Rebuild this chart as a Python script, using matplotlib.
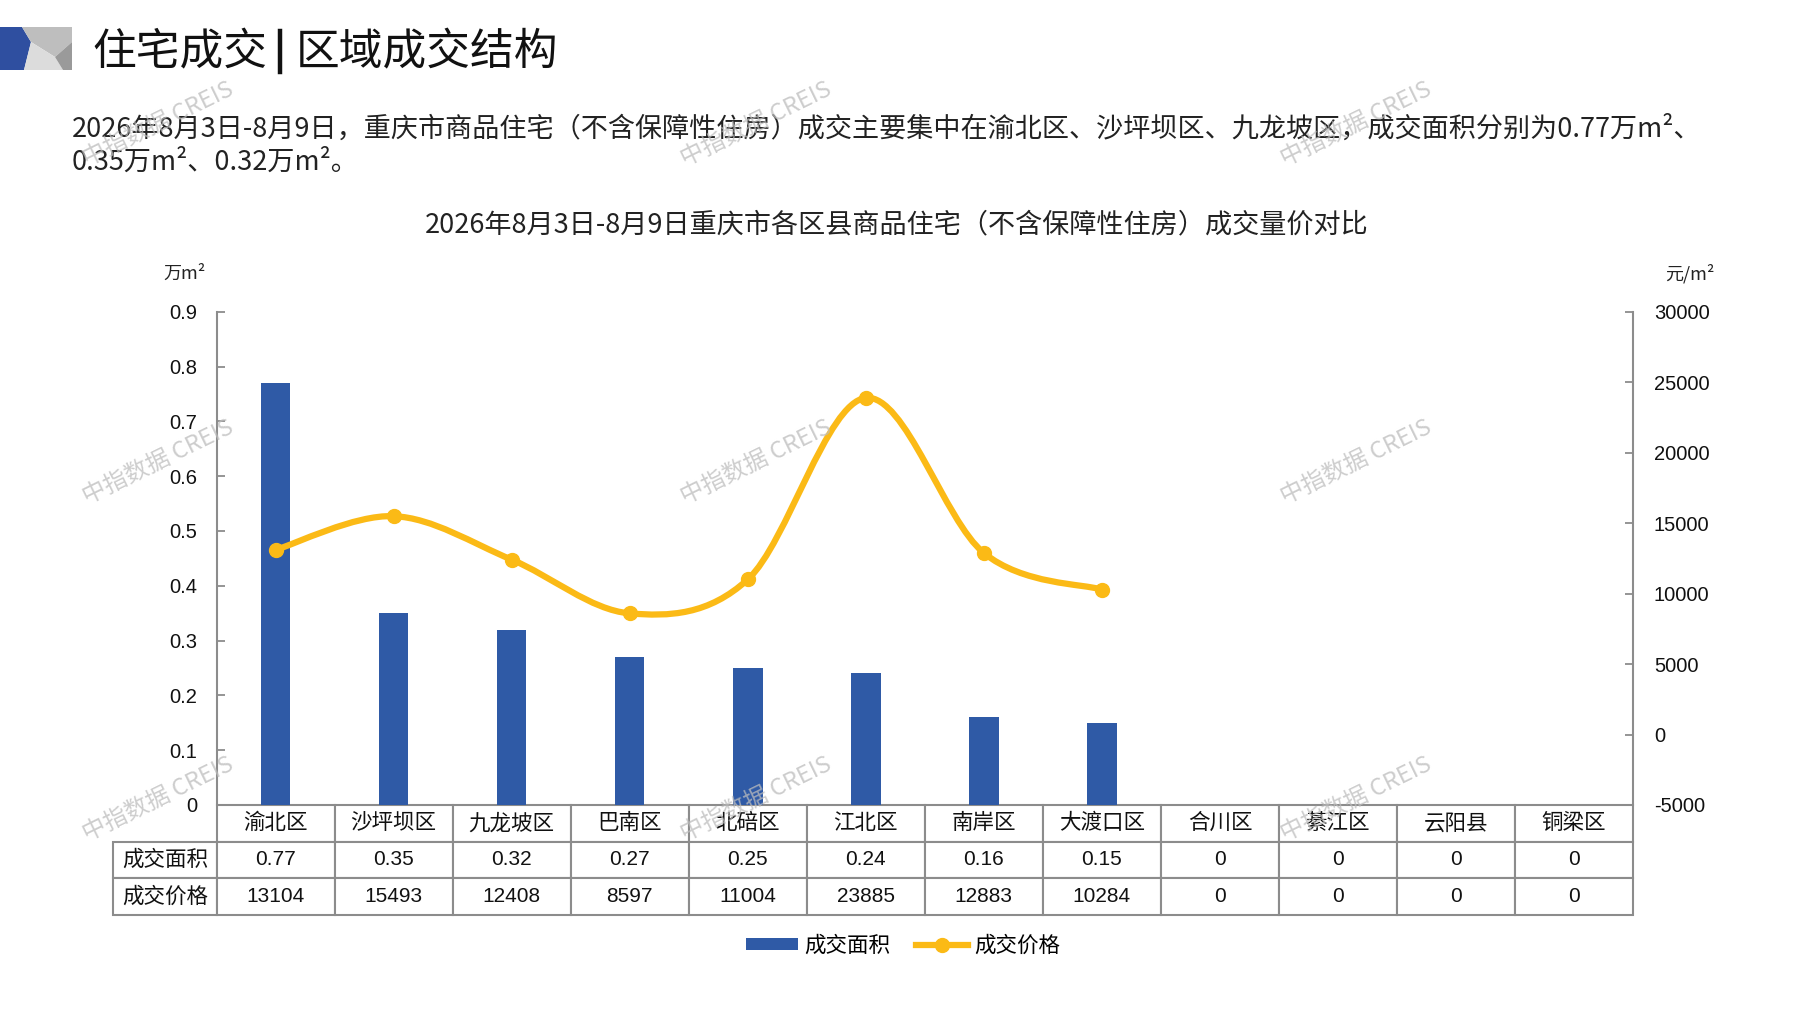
import matplotlib
matplotlib.use("Agg")
import matplotlib.pyplot as plt
from matplotlib.path import Path
from matplotlib.patches import PathPatch, Polygon, Patch
from matplotlib.lines import Line2D

plt.rcParams['font.family'] = ['Noto Sans CJK SC', 'DejaVu Sans']

# data
districts = ['渝北区', '沙坪坝区', '九龙坡区', '巴南区', '北碚区', '江北区',
             '南岸区', '大渡口区', '合川区', '綦江区', '云阳县', '铜梁区']
area = [0.77, 0.35, 0.32, 0.27, 0.25, 0.24, 0.16, 0.15, 0, 0, 0, 0]
price = [13104, 15493, 12408, 8597, 11004, 23885, 12883, 10284, 0, 0, 0, 0]
row_labels = ['成交面积', '成交价格']
left_ticks = [0, 0.1, 0.2, 0.3, 0.4, 0.5, 0.6, 0.7, 0.8, 0.9]
right_ticks = [-5000, 0, 5000, 10000, 15000, 20000, 25000, 30000]

title_left = '住宅成交'
title_right = '区域成交结构'
para1 = ('2026年8月3日-8月9日，重庆市商品住宅（不含保障性住房）成交主要集中在'
         '渝北区、沙坪坝区、九龙坡区，成交面积分别为0.77万m²、')
para2 = '0.35万m²、0.32万m²。'
chart_title = '2026年8月3日-8月9日重庆市各区县商品住宅（不含保障性住房）成交量价对比'

BLUE = '#2F5AA6'
GOLD = '#FBBA16'
GREY = '#8C8C8C'
NUM_FONT = ['Liberation Sans', 'DejaVu Sans']

W, H = 1797, 1010


def fx(x):
    return x / W


def fy(y):
    return 1 - y / H


fig = plt.figure(figsize=(W / 100, H / 100), dpi=100)

# header icon
icon = [
    ([(0, 27), (22, 27), (31, 42), (24, 70), (0, 70)], '#2F4FA0'),
    ([(22, 27), (72, 27), (72, 42), (55, 57), (31, 42)], '#BEBEBE'),
    ([(31, 42), (55, 57), (63, 70), (24, 70)], '#DCDCDC'),
    ([(72, 42), (72, 70), (63, 70), (55, 57)], '#9A9A9A'),
]
for pts, c in icon:
    fig.patches.append(Polygon([(fx(a), fy(b)) for a, b in pts], closed=True,
                               transform=fig.transFigure, color=c, lw=0))

fig.text(fx(92), fy(52), title_left, fontsize=31.5, va='center', ha='left', color='#111111')
fig.add_artist(Line2D([fx(280), fx(280)], [fy(31), fy(72)], color='#111111', lw=3.2,
                      transform=fig.transFigure))
fig.text(fx(296), fy(52), title_right, fontsize=31.5, va='center', ha='left', color='#111111')
fig.text(fx(72), fy(129), para1, fontsize=19.5, va='center', ha='left', color='#222222')
fig.text(fx(72), fy(162), para2, fontsize=19.5, va='center', ha='left', color='#222222')
fig.text(fx(897), fy(225), chart_title, fontsize=19.5, va='center', ha='center', color='#222222')
fig.text(fx(185), fy(274), '万m²', fontsize=13, va='center', ha='center', color='#222222')
fig.text(fx(1690), fy(274), '元/m²', fontsize=13, va='center', ha='center', color='#222222')

# axes
ax = fig.add_axes([fx(216.6), fy(805), fx(1633) - fx(216.6), fy(311.7) - fy(805)])
x = list(range(len(districts)))
ax.bar(x, area, width=0.25, color=BLUE, zorder=2)
ax.set_xlim(-0.5, len(districts) - 0.5)
ax.set_ylim(0, 0.9)
ax.set_yticks(left_ticks)
ax.set_yticklabels(['0' if v == 0 else f'{v:.1f}' for v in left_ticks],
                   fontfamily=NUM_FONT)
ax.set_xticks([])
ax.tick_params(axis='y', direction='in', length=6, width=1.3, color=GREY,
               labelsize=14.5, pad=14, labelcolor='#111111')
for s in ['top', 'right', 'bottom']:
    ax.spines[s].set_visible(False)
ax.spines['left'].set_color(GREY)
ax.spines['left'].set_linewidth(1.5)

ax2 = ax.twinx()
ax2.set_ylim(-5000, 30000)
ax2.set_yticks(right_ticks)
ax2.set_yticklabels([str(v) for v in right_ticks], fontfamily=NUM_FONT)
ax2.tick_params(axis='y', direction='in', length=6, width=1.3, color=GREY,
                labelsize=14.5, pad=15, labelcolor='#111111')
for s in ['top', 'left', 'bottom']:
    ax2.spines[s].set_visible(False)
ax2.spines['right'].set_color(GREY)
ax2.spines['right'].set_linewidth(1.5)

# smoothed price line (bezier through the traded districts)
px = [i for i in x if price[i] > 0]
py = [price[i] for i in px]
n = len(px)
verts = [(px[0], py[0])]
codes = [Path.MOVETO]
for i in range(n - 1):
    a = max(i - 1, 0)
    b = min(i + 2, n - 1)
    c1 = (px[i] + (px[i + 1] - px[a]) / 6, py[i] + (py[i + 1] - py[a]) / 6)
    c2 = (px[i + 1] - (px[b] - px[i]) / 6, py[i + 1] - (py[b] - py[i]) / 6)
    verts += [c1, c2, (px[i + 1], py[i + 1])]
    codes += [Path.CURVE4] * 3
ax2.add_patch(PathPatch(Path(verts, codes), fill=False, edgecolor=GOLD,
                        lw=4.5, capstyle='round', joinstyle='round', zorder=3))
ax2.plot(px, py, 'o', color=GOLD, markersize=10, zorder=4)

# data table below the axis (grid fits the axes width, row labels stick out left)
table = ax.table(cellText=[[f'{v:.2f}' if v else '0' for v in area],
                           [str(v) for v in price]],
                 rowLabels=row_labels, colLabels=districts,
                 cellLoc='center', rowLoc='center', colLoc='center',
                 colWidths=[1 / len(districts)] * len(districts),
                 bbox=[0, -0.222, 1, 0.222])
table.auto_set_font_size(False)
for (r, c), cell in table.get_celld().items():
    cell.set_edgecolor(GREY)
    cell.set_linewidth(1.5)
    t = cell.get_text()
    t.set_color('#111111')
    if c == -1:
        cell.set_width(0.072)
    if r == 0 or c == -1:
        t.set_fontsize(15.5)
    else:
        t.set_fontsize(15)
        t.set_fontfamily(NUM_FONT)

# legend
handles = [Patch(facecolor=BLUE, edgecolor='none'),
           Line2D([0], [0], color=GOLD, lw=4.5, marker='o', markersize=10)]
fig.legend(handles, row_labels, loc='center', bbox_to_anchor=(fx(903), fy(946)),
           ncol=2, frameon=False, fontsize=15.5, handlelength=2.4, handleheight=0.5,
           columnspacing=1.2, handletextpad=0.3)

# watermarks
for wy in [124, 462, 799]:
    for wx in [158, 756, 1356]:
        fig.text(fx(wx), fy(wy), '中指数据 CREIS', fontsize=17, rotation=26,
                 color='#BDBDBD', alpha=0.75, ha='center', va='center', zorder=10)

fig.savefig('out.png', dpi=100)
